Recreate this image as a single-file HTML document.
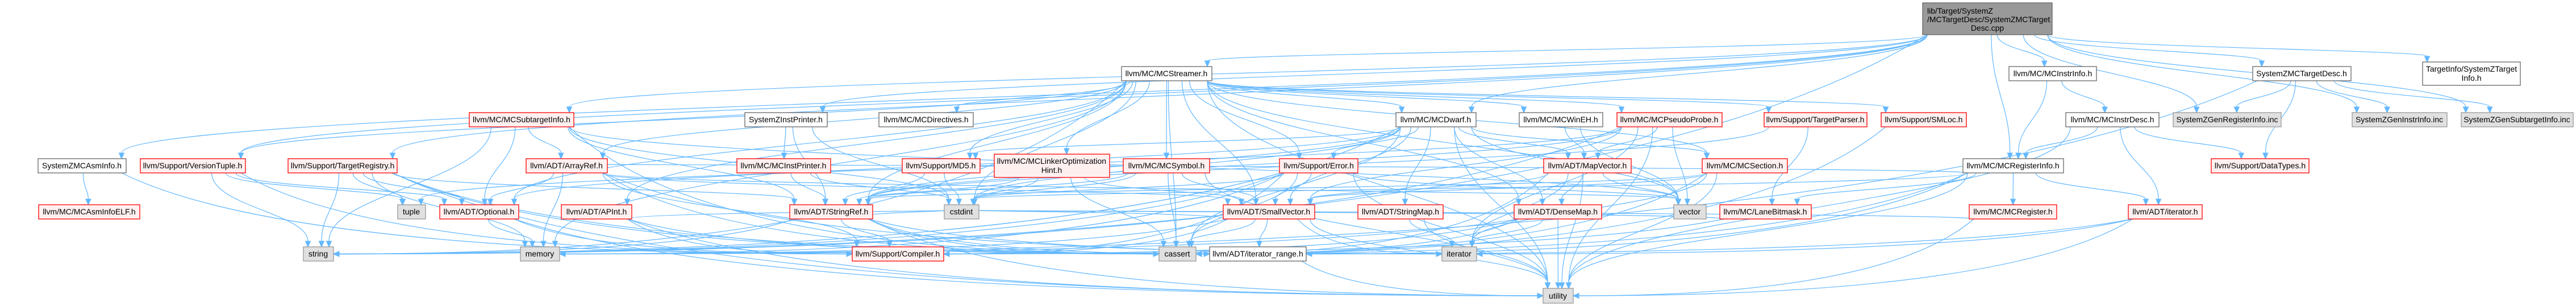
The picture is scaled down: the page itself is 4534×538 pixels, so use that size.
<!DOCTYPE html>
<html><head><meta charset="utf-8">
<style>
html,body{margin:0;padding:0;background:#fff;}
svg{display:block;}
text{font-family:"Liberation Sans",Arial,sans-serif;font-size:14px;fill:#000;}
.w{fill:#fff;stroke:#666;stroke-width:1.3}
.r{fill:#fff0f0;stroke:#ff0000;stroke-width:1.3}
.g{fill:#e0e0e0;stroke:#999;stroke-width:1.3}
.m{fill:#999;stroke:#666;stroke-width:1.3}
</style></head>
<body>
<svg id="s" width="4534" height="538" viewBox="0 0 4534 538" xmlns="http://www.w3.org/2000/svg">
<g id="edges" fill="none" stroke="#63b8ff" stroke-width="1.2"></g>
<g id="heads" fill="#63b8ff" stroke="#63b8ff"></g>
<g id="nodes" text-anchor="middle">
<rect class="m" x="3384" y="5" width="228" height="56"/><text x="3392" y="24" text-anchor="start">lib/Target/SystemZ</text><text x="3392" y="39" text-anchor="start">/MCTargetDesc/SystemZMCTarget</text><text x="3498" y="54">Desc.cpp</text>
<rect class="w" x="1974" y="117" width="159" height="25"/><text x="2053" y="134">llvm/MC/MCStreamer.h</text>
<rect class="w" x="3536" y="117" width="154" height="25"/><text x="3613" y="134">llvm/MC/MCInstrInfo.h</text>
<rect class="w" x="3965" y="117" width="173" height="25"/><text x="4051" y="134">SystemZMCTargetDesc.h</text>
<rect class="w" x="4264" y="109" width="172" height="41"/><text x="4350" y="126">TargetInfo/SystemZTarget</text><text x="4350" y="142">Info.h</text>
<rect class="r" x="826" y="198" width="184" height="25"/><text x="918" y="215">llvm/MC/MCSubtargetInfo.h</text>
<rect class="w" x="1311" y="198" width="145" height="25"/><text x="1383" y="215">SystemZInstPrinter.h</text>
<rect class="w" x="1547" y="198" width="166" height="25"/><text x="1630" y="215">llvm/MC/MCDirectives.h</text>
<rect class="w" x="2457" y="198" width="141" height="25"/><text x="2527" y="215">llvm/MC/MCDwarf.h</text>
<rect class="w" x="2674" y="198" width="147" height="25"/><text x="2747" y="215">llvm/MC/MCWinEH.h</text>
<rect class="r" x="2846" y="198" width="185" height="25"/><text x="2938" y="215">llvm/MC/MCPseudoProbe.h</text>
<rect class="r" x="3105" y="198" width="181" height="25"/><text x="3195" y="215">llvm/Support/TargetParser.h</text>
<rect class="r" x="3311" y="198" width="150" height="25"/><text x="3386" y="215">llvm/Support/SMLoc.h</text>
<rect class="w" x="3636" y="198" width="164" height="25"/><text x="3718" y="215">llvm/MC/MCInstrDesc.h</text>
<rect class="g" x="3825" y="198" width="190" height="25"/><text x="3920" y="215">SystemZGenRegisterInfo.inc</text>
<rect class="g" x="4140" y="198" width="167" height="25"/><text x="4223" y="215">SystemZGenInstrInfo.inc</text>
<rect class="g" x="4332" y="198" width="197" height="25"/><text x="4430" y="215">SystemZGenSubtargetInfo.inc</text>
<rect class="w" x="67" y="279" width="155" height="25"/><text x="144" y="296">SystemZMCAsmInfo.h</text>
<rect class="r" x="247" y="279" width="185" height="25"/><text x="339" y="296">llvm/Support/VersionTuple.h</text>
<rect class="r" x="507" y="279" width="192" height="25"/><text x="603" y="296">llvm/Support/TargetRegistry.h</text>
<rect class="r" x="926" y="279" width="143" height="25"/><text x="997" y="296">llvm/ADT/ArrayRef.h</text>
<rect class="r" x="1297" y="279" width="165" height="25"/><text x="1379" y="296">llvm/MC/MCInstPrinter.h</text>
<rect class="r" x="1588" y="279" width="137" height="25"/><text x="1656" y="296">llvm/Support/MD5.h</text>
<rect class="r" x="1750" y="271" width="203" height="41"/><text x="1851" y="288">llvm/MC/MCLinkerOptimization</text><text x="1851" y="304">Hint.h</text>
<rect class="r" x="1977" y="279" width="152" height="25"/><text x="2053" y="296">llvm/MC/MCSymbol.h</text>
<rect class="r" x="2252" y="279" width="138" height="25"/><text x="2321" y="296">llvm/Support/Error.h</text>
<rect class="r" x="2717" y="279" width="154" height="25"/><text x="2794" y="296">llvm/ADT/MapVector.h</text>
<rect class="r" x="2996" y="279" width="150" height="25"/><text x="3071" y="296">llvm/MC/MCSection.h</text>
<rect class="w" x="3455" y="279" width="177" height="25"/><text x="3543" y="296">llvm/MC/MCRegisterInfo.h</text>
<rect class="r" x="3892" y="279" width="172" height="25"/><text x="3978" y="296">llvm/Support/DataTypes.h</text>
<rect class="r" x="68" y="360" width="178" height="25"/><text x="157" y="377">llvm/MC/MCAsmInfoELF.h</text>
<rect class="g" x="700" y="360" width="49" height="25"/><text x="724" y="377">tuple</text>
<rect class="r" x="774" y="360" width="139" height="25"/><text x="843" y="377">llvm/ADT/Optional.h</text>
<rect class="r" x="988" y="360" width="124" height="25"/><text x="1050" y="377">llvm/ADT/APInt.h</text>
<rect class="r" x="1390" y="360" width="146" height="25"/><text x="1463" y="377">llvm/ADT/StringRef.h</text>
<rect class="g" x="1662" y="360" width="61" height="25"/><text x="1692" y="377">cstdint</text>
<rect class="r" x="2153" y="360" width="161" height="25"/><text x="2233" y="377">llvm/ADT/SmallVector.h</text>
<rect class="r" x="2390" y="360" width="150" height="25"/><text x="2465" y="377">llvm/ADT/StringMap.h</text>
<rect class="r" x="2665" y="360" width="154" height="25"/><text x="2742" y="377">llvm/ADT/DenseMap.h</text>
<rect class="g" x="2946" y="360" width="57" height="25"/><text x="2974" y="377">vector</text>
<rect class="r" x="3027" y="360" width="161" height="25"/><text x="3107" y="377">llvm/MC/LaneBitmask.h</text>
<rect class="r" x="3466" y="360" width="154" height="25"/><text x="3543" y="377">llvm/MC/MCRegister.h</text>
<rect class="r" x="3746" y="360" width="130" height="25"/><text x="3811" y="377">llvm/ADT/iterator.h</text>
<rect class="g" x="534" y="434" width="53" height="25"/><text x="560" y="451">string</text>
<rect class="g" x="916" y="434" width="69" height="25"/><text x="950" y="451">memory</text>
<rect class="r" x="1500" y="434" width="161" height="25"/><text x="1580" y="451">llvm/Support/Compiler.h</text>
<rect class="g" x="2040" y="434" width="65" height="25"/><text x="2072" y="451">cassert</text>
<rect class="w" x="2129" y="434" width="170" height="25"/><text x="2214" y="451">llvm/ADT/iterator_range.h</text>
<rect class="g" x="2538" y="434" width="61" height="25"/><text x="2568" y="451">iterator</text>
<rect class="g" x="2716" y="507" width="53" height="26"/><text x="2742" y="525">utility</text>
</g>
</svg>
<script>
var N={
main:[3384,5,3612,61],strm:[1974,117,2133,142],iinfo:[3536,117,3690,142],tdesc:[3965,117,4138,142],tinfo:[4264,109,4436,150],
sti:[826,198,1010,223],ipr:[1311,198,1456,223],dir:[1547,198,1713,223],dwarf:[2457,198,2598,223],wineh:[2674,198,2821,223],
probe:[2846,198,3031,223],tparser:[3105,198,3286,223],smloc:[3311,198,3461,223],idesc:[3636,198,3800,223],
greg:[3825,198,4015,223],ginstr:[4140,198,4307,223],gsub:[4332,198,4529,223],
asminfo:[67,279,222,304],vtuple:[247,279,432,304],treg:[507,279,699,304],aref:[926,279,1069,304],mcipr:[1297,279,1462,304],
md5:[1588,279,1725,304],loh:[1750,271,1953,312],sym:[1977,279,2129,304],err:[2252,279,2390,304],mapv:[2717,279,2871,304],
sect:[2996,279,3146,304],reginfo:[3455,279,3632,304],dtypes:[3892,279,4064,304],
elf:[68,360,246,385],tuple:[700,360,749,385],opt:[774,360,913,385],apint:[988,360,1112,385],sref:[1390,360,1536,385],
cstdint:[1662,360,1723,385],svec:[2153,360,2314,385],smap:[2390,360,2540,385],dmap:[2665,360,2819,385],vector:[2946,360,3003,385],
lane:[3027,360,3188,385],mcreg:[3466,360,3620,385],iter:[3746,360,3876,385],
string:[534,434,587,459],memory:[916,434,985,459],comp:[1500,434,1661,459],cassert:[2040,434,2105,459],irange:[2129,434,2299,459],
iterator:[2538,434,2599,459],utility:[2716,507,2769,533]};
var E={
main:['strm','iinfo','reginfo','sti','tdesc','ipr','asminfo','treg','tinfo','greg','ginstr','gsub','dwarf','string','vtuple'],
strm:['aref','dmap','opt','svec','sref','dir','dwarf','loh','probe','wineh','sym','err','md5','smloc','tparser','vtuple','cassert','cstdint','memory','string','utility','vector','sect','apint'],
dwarf:['mapv','opt','svec','smap','sref','sect','err','md5','cassert','cstdint','string','utility','vector','dmap'],
wineh:['mapv','vector'],
probe:['mapv','svec','sref','vector','string','iterator','utility','tuple'],
sect:['svec','iterator','cassert','utility','sref'],
mapv:['dmap','svec','cassert','iterator','utility','vector'],
dmap:['iterator','utility','cassert','comp','memory'],
svec:['comp','cassert','iterator','memory','utility','cstdint','irange'],
sref:['comp','irange','cassert','cstdint','string','utility','iterator'],
aref:['svec','opt','comp','iterator','memory','vector','cassert'],
opt:['comp','memory','utility'],
apint:['comp','cassert','cstdint','utility'],
err:['comp','cassert','cstdint','memory','string','utility','vector','svec'],
md5:['sref','cstdint'],
loh:['sref','svec','cassert','cstdint'],
sym:['sref','cassert','cstdint','utility','svec'],
smap:['iterator','utility'],
irange:['utility'],
sti:['aref','sref','opt','string','vector','cassert','cstdint'],
ipr:['mcipr','sref','cstdint'],
mcipr:['cstdint','sref'],
asminfo:['elf','comp'],
treg:['opt','irange','sref','cassert','memory','string','tuple','utility'],
vtuple:['opt','tuple','string','comp'],
tparser:['lane','sref'],
smloc:['cassert'],
iinfo:['idesc','reginfo'],
idesc:['reginfo','dtypes','iter','utility'],
reginfo:['mcreg','lane','iter','irange','cassert','cstdint','utility','aref'],
tdesc:['greg','ginstr','gsub','dtypes','memory'],
mcreg:['cstdint','utility'],
lane:['comp','cstdint'],
iter:['irange','utility','iterator']};
var ns='http://www.w3.org/2000/svg',eg=document.getElementById('edges'),hg=document.getElementById('heads');
function f(v){return v.toFixed(1);}
for(var s in E){var a=N[s];E[s].forEach(function(t){var b=N[t];if(!b)return;
 var sx=(a[0]+a[2])/2,sy=a[3],tx,ty,c1x,c1y,c2x,c2y;
 var bx=(b[0]+b[2])/2,dy=b[1]-sy;
 sx=Math.max(a[0]+8,Math.min(a[2]-8,sx+(bx-sx)*0.15));
 if(Math.abs(bx-sx)>4*Math.max(dy,20)&&b[1]>400){
   ty=(b[1]+b[3])/2;tx=bx<sx?b[2]:b[0];
   c1x=sx+(tx-sx)*0.2;c1y=sy+(ty-sy)*0.9;c2x=tx+(sx-tx)*0.3;c2y=ty;
 }else{
   tx=Math.max(b[0]+8,Math.min(b[2]-8,bx+(sx-bx)*0.15));ty=b[1];
   c1x=sx;c1y=sy+dy*0.45;c2x=tx;c2y=ty-dy*0.45;
 }
 var ux=tx-c2x,uy=ty-c2y,L=Math.sqrt(ux*ux+uy*uy)||1;ux/=L;uy/=L;
 var ex=tx-ux*10,ey=ty-uy*10;
 var p=document.createElementNS(ns,'path');
 p.setAttribute('d','M'+f(sx)+','+f(sy)+' C'+f(c1x)+','+f(c1y)+' '+f(c2x)+','+f(c2y)+' '+f(ex)+','+f(ey));
 eg.appendChild(p);
 var h=document.createElementNS(ns,'polygon');
 h.setAttribute('points',f(tx)+','+f(ty)+' '+f(ex-uy*4.5)+','+f(ey+ux*4.5)+' '+f(ex+uy*4.5)+','+f(ey-ux*4.5));
 hg.appendChild(h);
});}
</script>
</body></html>
